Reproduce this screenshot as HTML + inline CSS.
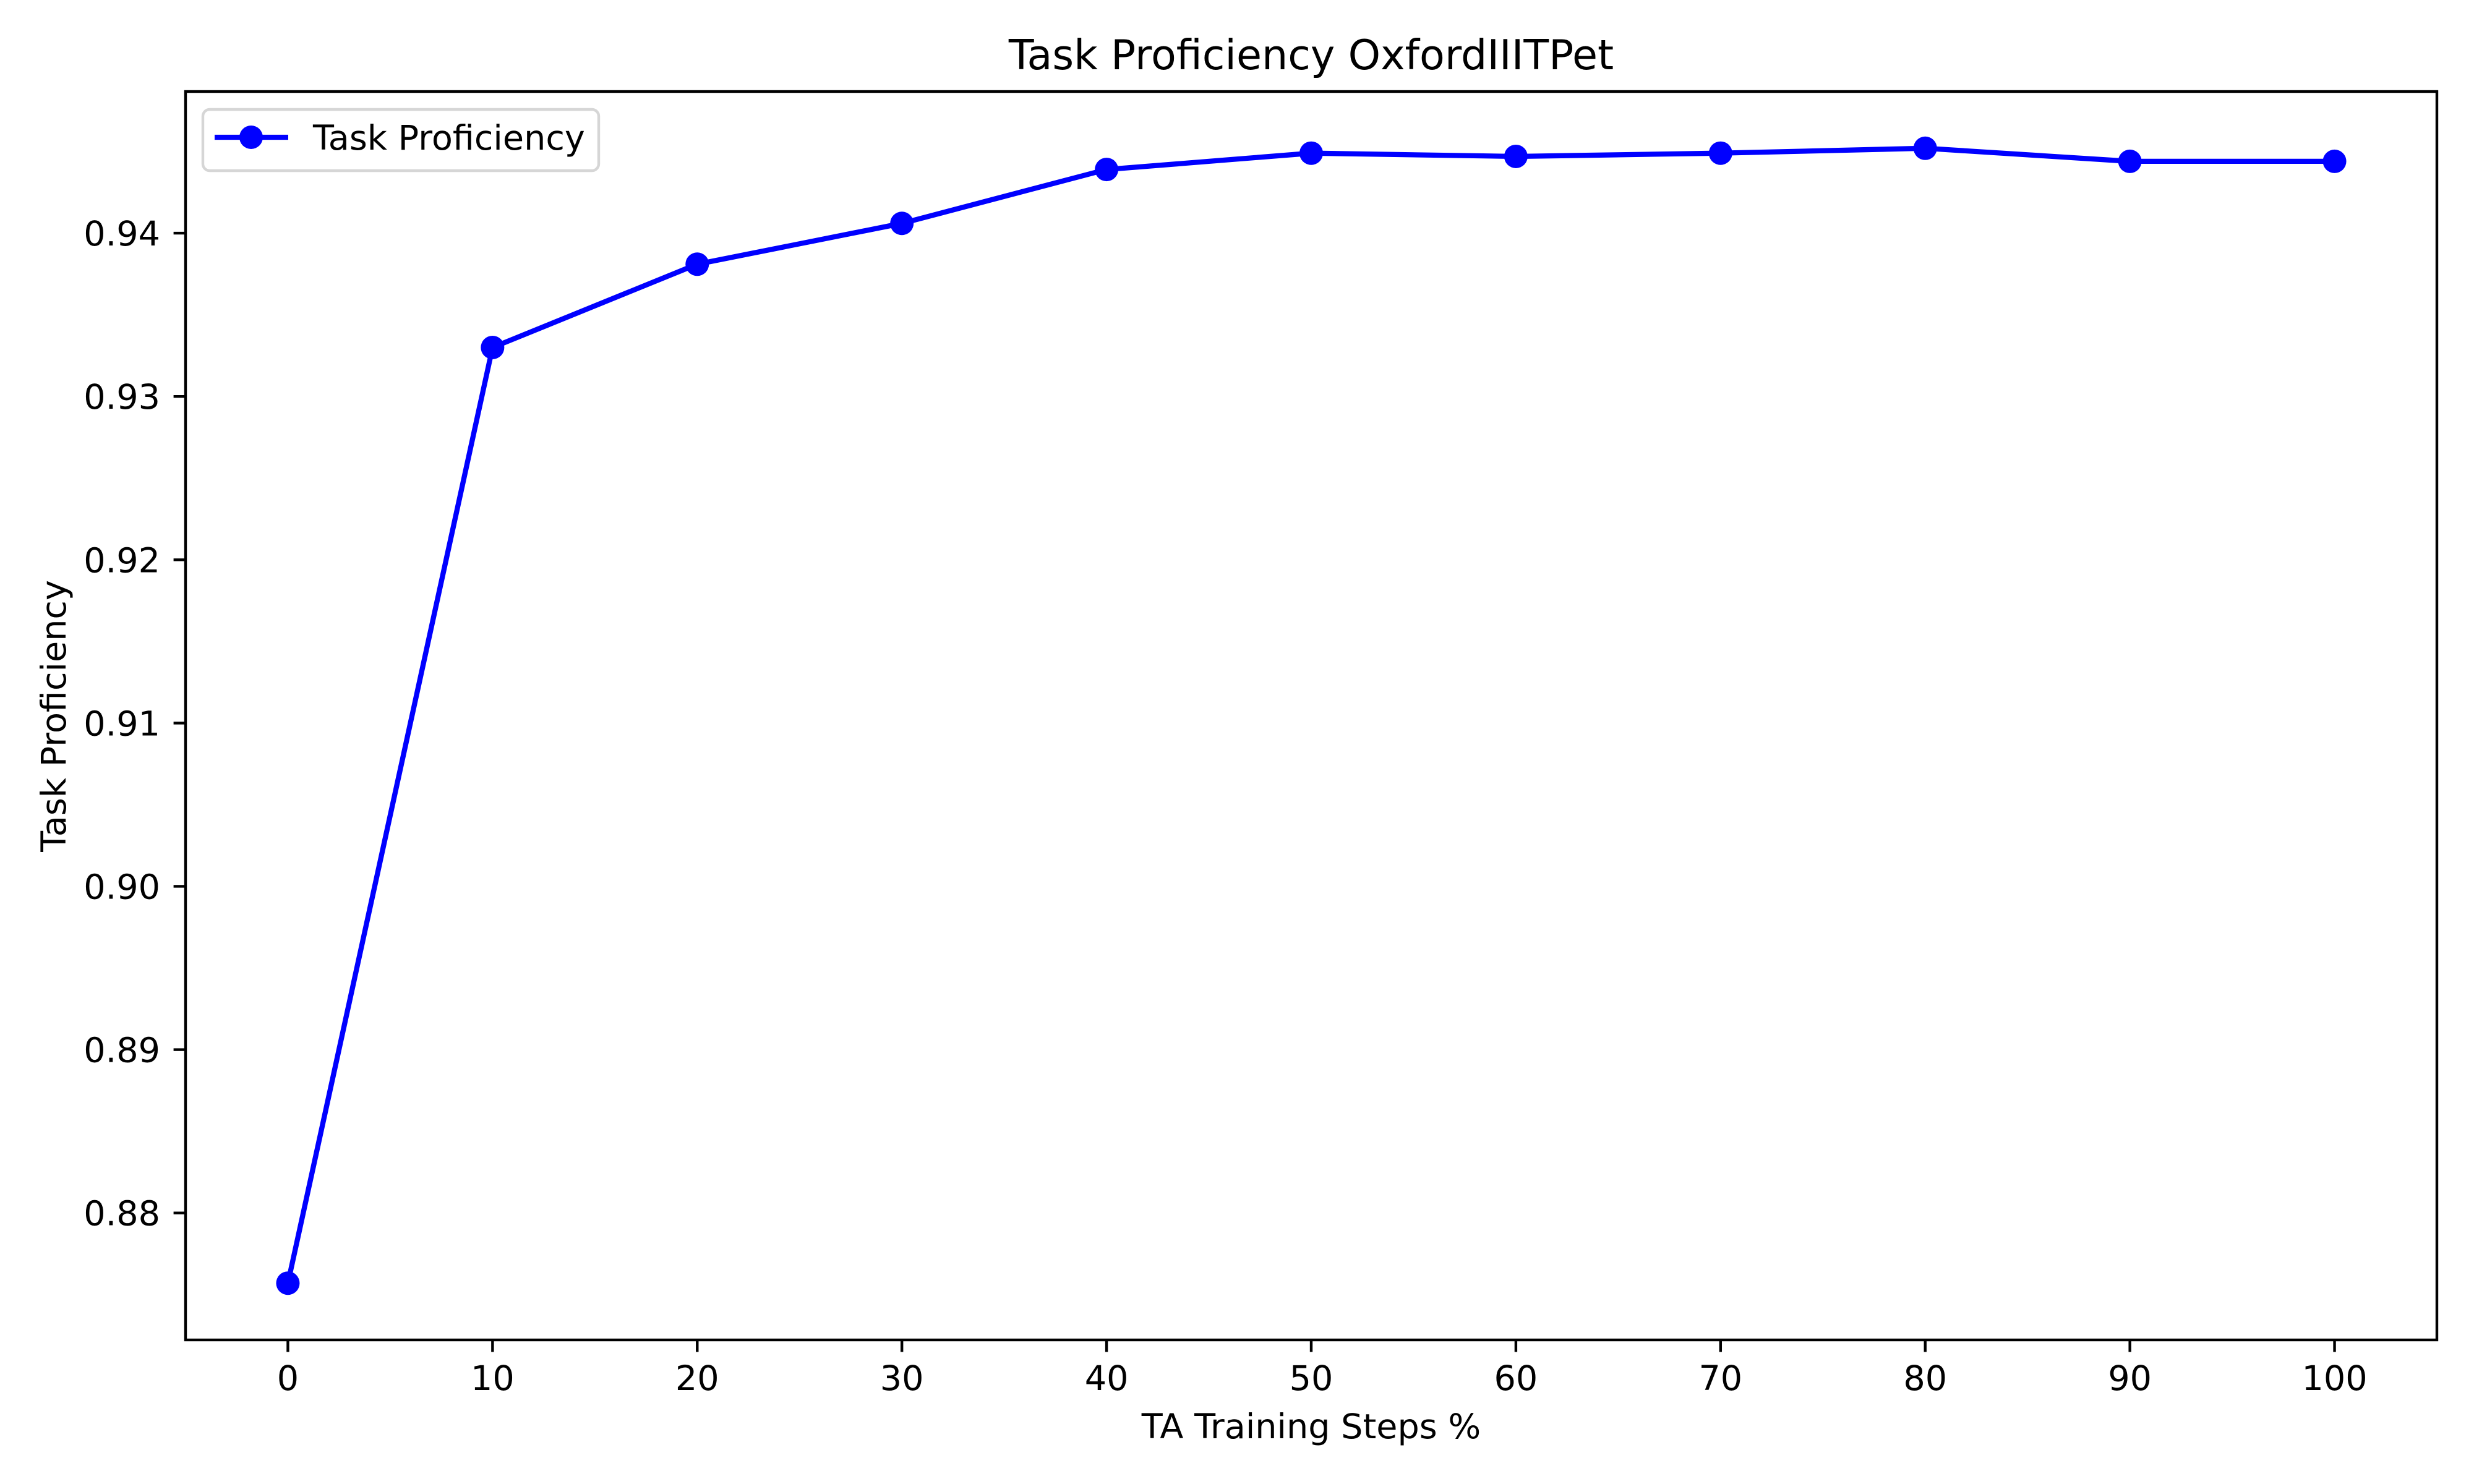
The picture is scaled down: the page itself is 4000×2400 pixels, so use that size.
<!DOCTYPE html>
<html><head><meta charset="utf-8"><style>
html,body{margin:0;padding:0;background:#fff;}
svg{display:block;font-family:"DejaVu Sans","Liberation Sans",sans-serif;}
</style></head><body>
<svg id="chart" width="4000" height="2400" viewBox="0 0 4000 2400" xmlns="http://www.w3.org/2000/svg">
<rect width="4000" height="2400" fill="#fff"/>
<text x="2120" y="112" font-size="66.7" text-anchor="middle">Task Proficiency OxfordIIITPet</text>
<text x="2120" y="2326" font-size="55.6" text-anchor="middle">TA Training Steps %</text>
<text transform="translate(106,1158) rotate(-90)" font-size="55.6" text-anchor="middle">Task Proficiency</text>
<g id="xticks"></g>
<g id="yticks"></g>
<g id="series"></g>
<rect x="300" y="148" width="3640" height="2019" fill="none" stroke="#000" stroke-width="4.4"/>
<g>
<rect x="328" y="177" width="640" height="99" rx="11" fill="#fff" fill-opacity="0.8" stroke="#d6d6d6" stroke-width="4.4"/>
<line x1="347" y1="222" x2="466" y2="222" stroke="#0000ff" stroke-width="8.3"/>
<circle cx="406" cy="222" r="19" fill="#0000ff"/>
<text x="506" y="242" font-size="55.6">Task Proficiency</text>
</g>
</svg>
<script>
const categories = [0,10,20,30,40,50,60,70,80,90,100];
const values = [0.8757,0.9330,0.9381,0.9406,0.9439,0.9449,0.9447,0.9449,0.9452,0.9444,0.9444];
const xTickLabels = ["0","10","20","30","40","50","60","70","80","90","100"];
const yTickValues = [0.88,0.89,0.90,0.91,0.92,0.93,0.94];
const yTickLabels = ["0.88","0.89","0.90","0.91","0.92","0.93","0.94"];

const NS="http://www.w3.org/2000/svg";
const L=300,R=3940,T=148,B=2167;
const xmin=-5,xmax=105;
const ylo=Math.min(...values),yhi=Math.max(...values),pad=(yhi-ylo)*0.05;
const ymin=ylo-pad,ymax=yhi+pad;
function xs(v){return L+(v-xmin)/(xmax-xmin)*(R-L);}
function ys(v){return B-(v-ymin)/(ymax-ymin)*(B-T);}
function mk(tag,attrs,parent){const e=document.createElementNS(NS,tag);for(const k in attrs)e.setAttribute(k,attrs[k]);parent.appendChild(e);return e;}
const gx=document.getElementById('xticks'),gy=document.getElementById('yticks'),gs=document.getElementById('series');
categories.forEach((c,i)=>{
  const x=xs(c);
  const t=mk('line',{x1:x,x2:x,y1:B,y2:B+19.4,stroke:'#000','stroke-width':4.4},gx);
  
  
  const lb=mk('text',{x:x,y:2248,'font-size':55.6,'text-anchor':'middle'},gx);
  lb.textContent=xTickLabels[i];
  
  
});
yTickValues.forEach((v,i)=>{
  const y=ys(v);
  const t=mk('line',{x1:L-19.4,x2:L,y1:y,y2:y,stroke:'#000','stroke-width':4.4},gy);
  
  
  const lb=mk('text',{x:259,y:y+20,'font-size':55.6,'text-anchor':'end'},gy);
  lb.textContent=yTickLabels[i];
  
  
});
const pts=categories.map((c,i)=>xs(c)+','+ys(values[i])).join(' ');
const pl=mk('polyline',{points:pts,fill:'none',stroke:'#0000ff','stroke-width':8.3,'stroke-linejoin':'round'},gs);


categories.forEach((c,i)=>{
  const p=mk('circle',{cx:xs(c),cy:ys(values[i]),r:19,fill:'#0000ff'},gs);
  
  
});
</script>
</body></html>
